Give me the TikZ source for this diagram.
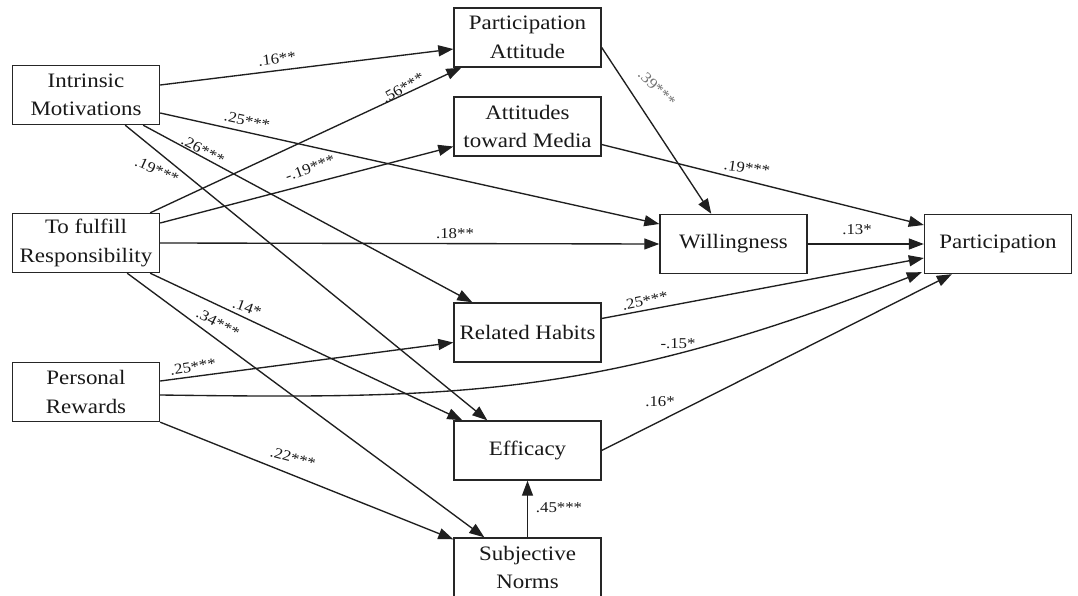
\documentclass[tikz,border=0pt]{standalone}
\usepackage{fontspec}
\setmainfont{Liberation Serif}[FakeStretch=1.12]
\usetikzlibrary{arrows.meta,calc}
\begin{document}
\begin{tikzpicture}[x=1pt,y=-1pt,
  box/.style={draw=black!85, line width=1.4pt, minimum width=147pt, minimum height=59pt, inner sep=0pt, align=center, font=\fontsize{20.5}{28.5}\selectfont, text=black!90},
  edge/.style={line width=1.35pt, draw=black!88, -{Triangle[length=15pt,width=11pt]}},
  lab/.style={font=\fontsize{15}{17}\selectfont, inner sep=0pt, text=black!90}]
\useasboundingbox (0,0) rectangle (1078,596);
\fill[white] (0,0) rectangle (1078,596);
% boxes
\node[box] (IM) at (86,95) {Intrinsic\\Motivations};
\node[box] (TR) at (86,243) {To fulfill\\Responsibility};
\node[box] (PR) at (86,392) {Personal\\Rewards};
\node[box] (PA) at (527.5,37.5) {Participation\\Attitude};
\node[box] (AM) at (527.5,126.5) {Attitudes\\toward Media};
\node[box] (W) at (733.5,244) {Willingness};
\node[box] (P) at (998,244) {Participation};
\node[box] (RH) at (527.5,332.5) {Related Habits};
\node[box] (E) at (527.5,450.5) {Efficacy};
\node[box] (SN) at (527.5,567.5) {Subjective\\Norms};
% connectors
\draw[edge] ($(IM.east)+(0,-10)$) -- ($(PA.west)+(0,11.5)$);
\draw[edge] ($(IM.east)+(0,18)$) -- ($(W.west)+(0,-20)$);
\draw[edge] ($(IM.south east)+(-17,0)$) -- ($(RH.north west)+(19,0)$);
\draw[edge] ($(IM.south east)+(-35,0)$) -- ($(E.north west)+(34,0)$);
\draw[edge] ($(TR.north east)+(-10,0)$) -- ($(PA.south west)+(8,0)$);
\draw[edge] ($(TR.east)+(0,-20)$) -- ($(AM.west)+(0,20)$);
\draw[edge] (TR.east) -- (W.west);
\draw[edge] ($(TR.south east)+(-10,0)$) -- ($(E.north west)+(9,0)$);
\draw[edge] ($(TR.south east)+(-33,0)$) -- ($(SN.north west)+(31,0)$);
\draw[edge] ($(PR.east)+(0,-11)$) -- ($(RH.west)+(0,10)$);
\draw[edge] ($(PR.east)+(0,3)$) .. controls ($(PR.east)+(300,7)$) and ($(P.south west)+(-324,123)$) .. ($(P.south west)+(-2,-2)$);
\draw[edge] (PR.south east) -- ($(SN.north west)+(0,2)$);
\draw[edge] (SN.north) -- (E.south);
\draw[edge] ($(PA.east)+(0,10)$) -- ($(W.north west)+(52,0)$);
\draw[edge] ($(AM.east)+(0,18)$) -- ($(P.west)+(0,-19)$);
\draw[edge] (W.east) -- (P.west);
\draw[edge] ($(RH.east)+(0,-14)$) -- ($(P.west)+(0,14)$);
\draw[edge] (E.east) -- ($(P.south west)+(28,0)$);
% labels
\node[lab, rotate=7] (l1) at (277,59) {.16**};
\node[lab, rotate=-12] (l2) at (247,121) {.25***};
\node[lab, rotate=-27] (l3) at (203,150) {.26***};
\node[lab, rotate=-24] (l4) at (157,170) {.19***};
\node[lab, rotate=30] (l5) at (403,88) {.56***};
\node[lab, rotate=20] (l6) at (310,168) {-.19***};
\node[lab] (l7) at (455,234) {.18**};
\node[lab, rotate=-20] (l8) at (247,308) {.14*};
\node[lab, rotate=-27] (l9) at (218,323) {.34***};
\node[lab, rotate=9] (l10) at (193,367) {.25***};
\node[lab, rotate=-15] (l11) at (293,458) {.22***};
\node[lab] (l12) at (559,508) {.45***};
\node[lab, rotate=-45, text=black!55] (l13) at (657,88) {.39***};
\node[lab, rotate=-8] (l14) at (747,168) {.19***};
\node[lab] (l15) at (857,230) {.13*};
\node[lab, rotate=11] (l16) at (645,301) {.25***};
\node[lab] (l17) at (678,344) {-.15*};
\node[lab] (l18) at (660,402) {.16*};
\end{tikzpicture}
\end{document}
